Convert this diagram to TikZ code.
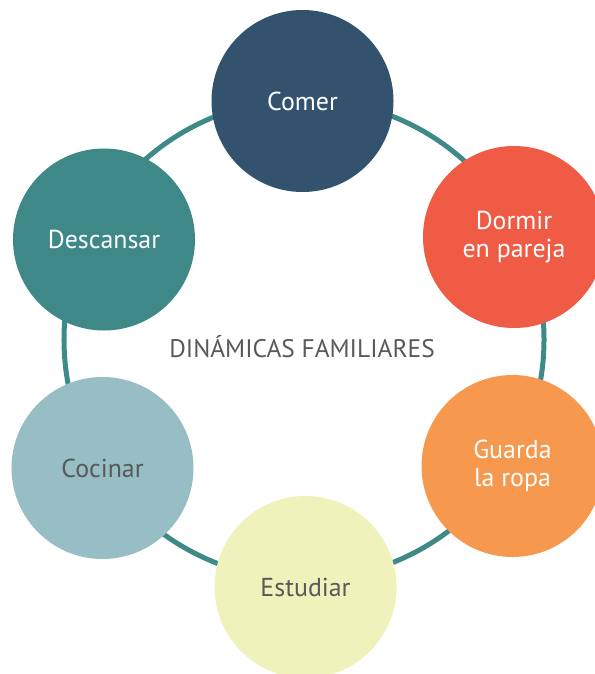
\documentclass[tikz,border=0pt]{standalone}
\usepackage{fontspec}
\setmainfont{PT Sans}
\definecolor{comerblue}{HTML}{32526E}
\definecolor{dormirred}{HTML}{F05B45}
\definecolor{guardaorange}{HTML}{F7984F}
\definecolor{estudiaryellow}{HTML}{EFF2BA}
\definecolor{cocinarblue}{HTML}{96BEC4}
\definecolor{descansarteal}{HTML}{3F8888}
\definecolor{ringteal}{HTML}{3E8A89}
\definecolor{textgray}{HTML}{58595B}

\begin{document}
\begin{tikzpicture}[
    x=1bp, y=-1bp,
    ring/.style={
        circle,
        draw=ringteal,
        line width=5bp,
        minimum size=480bp,
        inner sep=0pt
    },
    bubble/.style={
        circle,
        minimum size=182bp,
        inner sep=0pt,
        align=center,
        font=\fontsize{26}{28.5}\selectfont
    },
    title/.style={
        text=textgray,
        font=\fontsize{25.5}{28}\selectfont
    }
]

\useasboundingbox (0,0) rectangle (595,674);
\clip (0,0) rectangle (595,674);

\node[ring] (ring) at (304,339.5) {};
\node[title] (titulo) at (302,347) {DIN\'AMICAS FAMILIARES};

\node[bubble, fill=comerblue, text=white] (comer) at (302.5,101) {Comer};
\node[bubble, fill=dormirred, text=white] (dormir) at (514,237) {Dormir\\en pareja};
\node[bubble, fill=guardaorange, text=white] (guarda) at (512.5,466) {Guarda\\la ropa};
\node[bubble, fill=estudiaryellow, text=textgray] (estudiar) at (305.5,587) {Estudiar};
\node[bubble, fill=cocinarblue, text=textgray] (cocinar) at (102.5,468) {Cocinar};
\node[bubble, fill=descansarteal, text=white] (descansar) at (104,239.5) {Descansar};

\end{tikzpicture}
\end{document}
